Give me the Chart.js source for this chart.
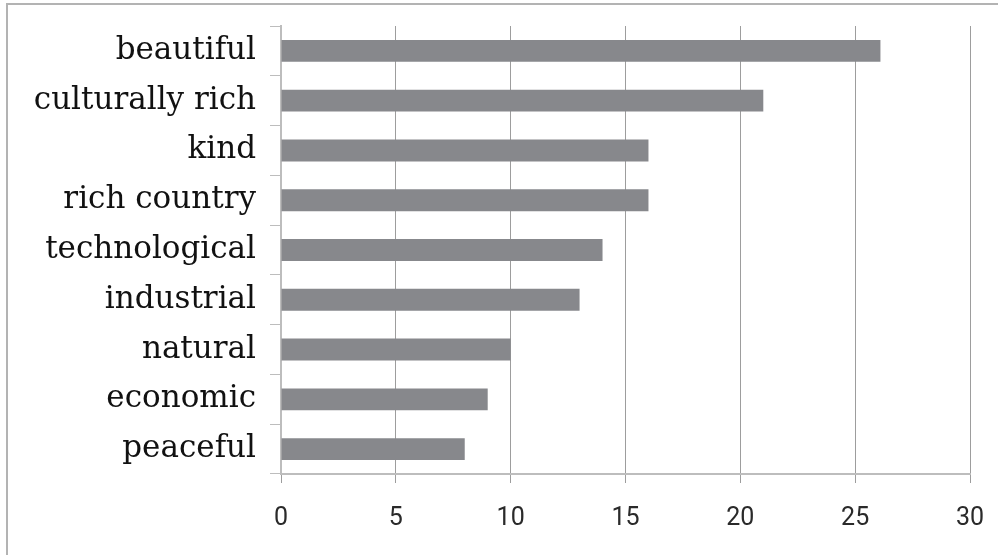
<!DOCTYPE html>
<html>
<head>
<meta charset="utf-8">
<script src="https://cdn.jsdelivr.net/npm/chart.js@4.4.1/dist/chart.umd.min.js"></script>
<style>
    html, body { margin: 0; padding: 0; background: #ffffff; overflow: hidden; }
    #frame {
        position: absolute; left: 6px; top: 3px; width: 1100px; height: 700px;
        border-left: 2px solid #b3b3b3; border-top: 2px solid #b3b3b3;
    }
    #wrap { position: absolute; left: 0; top: 0; width: 998px; height: 555px; }
</style>
</head>
<body>
<div id="frame"></div>
<div id="wrap"><canvas id="chart" width="998" height="555"></canvas></div>
<script>
const categories = ["beautiful", "culturally rich", "kind", "rich country", "technological",
    "industrial", "natural", "economic", "peaceful"];
const counts = [26.1, 21, 16, 16, 14, 13, 10, 9, 8];
const xTicks = [0, 5, 10, 15, 20, 25, 30];

const barColor = "#87888c";

// keep the plot area where the reference has it
function noEdgePadding(scale) {
    scale.paddingLeft = 0;
    scale.paddingRight = 0;
    scale.paddingTop = 0;
    scale.paddingBottom = 0;
}

new Chart(document.getElementById("chart"), {
    type: "bar",
    data: {
        labels: categories,
        datasets: [{
            data: counts,
            backgroundColor: barColor,
            borderWidth: 0,
            categoryPercentage: 1,
            barPercentage: 0.44
        }]
    },
    options: {
        indexAxis: "y",
        responsive: false,
        animation: false,
        layout: { padding: { left: 0, top: 26, right: 28, bottom: 0 } },
        plugins: { legend: { display: false }, tooltip: { enabled: false } },
        scales: {
            x: {
                min: 0,
                max: 30,
                afterBuildTicks: function (scale) {
                    scale.ticks = xTicks.map(function (v) { return { value: v }; });
                },
                afterFit: function (scale) {
                    scale.height = 81;
                    noEdgePadding(scale);
                },
                grid: { color: "#9d9d9d", lineWidth: 1, tickLength: 9 },
                border: { color: "#bdbdbd", width: 2 },
                ticks: {
                    color: "#2a2a2a",
                    padding: 21,
                    font: { family: "'Roboto', sans-serif", size: 25 }
                }
            },
            y: {
                afterFit: function (scale) {
                    scale.width = 281;
                    noEdgePadding(scale);
                },
                grid: { drawOnChartArea: false, offset: true, tickLength: 11, color: "#bdbdbd" },
                border: { color: "#bdbdbd", width: 2 },
                ticks: {
                    color: "#111111",
                    padding: 14,
                    font: { family: "'DejaVu Serif', serif", size: 31 }
                }
            }
        }
    }
});
</script>
</body>
</html>
